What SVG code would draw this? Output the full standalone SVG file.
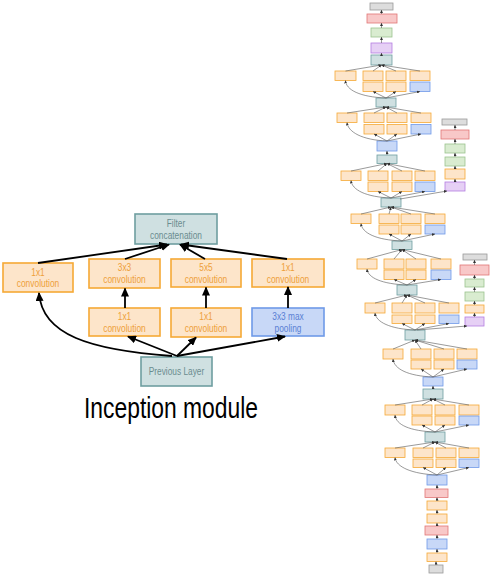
<svg xmlns="http://www.w3.org/2000/svg" width="492" height="579" viewBox="0 0 492 579">
<defs>
<style>
.L{stroke-width:1.6}
.S{stroke-width:0.8}
.o{fill:#fde5ca;stroke:#f6a935}
.b{fill:#c8d8f7;stroke:#6f9ae8}
.t{fill:#cfe0e1;stroke:#6e9ea0}
.g{fill:#dddddd;stroke:#9a9a9a}
.r{fill:#f8c8c8;stroke:#e07676}
.gr{fill:#d9ecd0;stroke:#9cc48e}
.p{fill:#e6d0f5;stroke:#b57de0}
text{font-family:"Liberation Sans",Arial,sans-serif;text-anchor:middle;font-size:10.5px}
.to{fill:#ee9f3a}
.tb{fill:#5a80d4}
.tt{fill:#6a8c8f}
.big{stroke:#000;stroke-width:1.8;fill:none}
.sm{stroke:#555;stroke-width:0.6;fill:none}
</style>
<marker id="ah" markerUnits="userSpaceOnUse" markerWidth="9" markerHeight="8" refX="8" refY="4" orient="auto"><path d="M0,0 L9,4 L0,8 z" fill="#000"/></marker>
<marker id="as" markerUnits="userSpaceOnUse" markerWidth="3" markerHeight="3" refX="3" refY="1.5" orient="auto"><path d="M0,0 L3,1.5 L0,3 z" fill="#333"/></marker>
</defs>

<!-- Left: Inception module -->
<g id="concat"><rect class="t L" x="135" y="214" width="82" height="30"/><text class="tt" x="176" y="226.5" textLength="18.4" lengthAdjust="spacingAndGlyphs">Filter</text><text class="tt" x="176" y="238.5" textLength="52" lengthAdjust="spacingAndGlyphs">concatenation</text></g>
<g id="conv1x1a"><rect class="o L" x="3" y="263" width="70" height="29"/><text class="to" x="38" y="275.5" textLength="13.4" lengthAdjust="spacingAndGlyphs">1x1</text><text class="to" x="38" y="287" textLength="42.5" lengthAdjust="spacingAndGlyphs">convolution</text></g>
<g id="conv3x3"><rect class="o L" x="89" y="259" width="71" height="29"/><text class="to" x="124.5" y="271" textLength="13.4" lengthAdjust="spacingAndGlyphs">3x3</text><text class="to" x="124.5" y="283" textLength="42.5" lengthAdjust="spacingAndGlyphs">convolution</text></g>
<g id="conv5x5"><rect class="o L" x="171" y="259" width="70" height="28"/><text class="to" x="206" y="271" textLength="13.4" lengthAdjust="spacingAndGlyphs">5x5</text><text class="to" x="206" y="283" textLength="42.5" lengthAdjust="spacingAndGlyphs">convolution</text></g>
<g id="conv1x1d"><rect class="o L" x="252" y="259" width="72" height="28"/><text class="to" x="288" y="271" textLength="13.4" lengthAdjust="spacingAndGlyphs">1x1</text><text class="to" x="288" y="283" textLength="42.5" lengthAdjust="spacingAndGlyphs">convolution</text></g>
<g id="conv1x1b"><rect class="o L" x="89" y="308" width="71" height="28"/><text class="to" x="124.5" y="320" textLength="13.4" lengthAdjust="spacingAndGlyphs">1x1</text><text class="to" x="124.5" y="331.5" textLength="42.5" lengthAdjust="spacingAndGlyphs">convolution</text></g>
<g id="conv1x1c"><rect class="o L" x="171" y="308" width="70" height="29"/><text class="to" x="206" y="320" textLength="13.4" lengthAdjust="spacingAndGlyphs">1x1</text><text class="to" x="206" y="332" textLength="42.5" lengthAdjust="spacingAndGlyphs">convolution</text></g>
<g id="maxpool"><rect class="b L" x="252" y="308" width="72" height="28"/><text class="tb" x="288" y="319.5" textLength="31.4" lengthAdjust="spacingAndGlyphs">3x3 max</text><text class="tb" x="288" y="331.5" textLength="26.8" lengthAdjust="spacingAndGlyphs">pooling</text></g>
<g id="prev"><rect class="t L" x="141" y="357" width="71" height="29"/><text class="tt" x="176.5" y="375" textLength="55.4" lengthAdjust="spacingAndGlyphs">Previous Layer</text></g>
<g id="caption"><text x="171" y="418" style="font-size:29px;fill:#000" textLength="174" lengthAdjust="spacingAndGlyphs">Inception module</text></g>

<g id="connectors-left">
<line class="big" x1="38" y1="263" x2="167" y2="244.5" marker-end="url(#ah)"/>
<line class="big" x1="125" y1="259" x2="169" y2="244.5" marker-end="url(#ah)"/>
<line class="big" x1="205" y1="259" x2="180" y2="244.5" marker-end="url(#ah)"/>
<line class="big" x1="287" y1="259" x2="181" y2="244.5" marker-end="url(#ah)"/>
<line class="big" x1="125" y1="308" x2="125" y2="288.5" marker-end="url(#ah)"/>
<line class="big" x1="206" y1="308" x2="206" y2="287.5" marker-end="url(#ah)"/>
<line class="big" x1="288" y1="308" x2="288" y2="287" marker-end="url(#ah)"/>
<line class="big" x1="177" y1="356" x2="128" y2="336.5" marker-end="url(#ah)"/>
<line class="big" x1="177" y1="356" x2="196" y2="337.5" marker-end="url(#ah)"/>
<line class="big" x1="177" y1="356" x2="285" y2="336.5" marker-end="url(#ah)"/>
<path class="big" d="M172,356 C90,350 42,335 39,293" marker-end="url(#ah)"/>
</g>

<!-- Right: GoogLeNet column -->
<g id="net-stem-top">
<g id="n-out"><rect class="g S" x="370" y="3" width="23" height="7"/></g>
<g id="n-softmax"><rect class="r S" x="367" y="14" width="30" height="9"/></g>
<g id="n-fc"><rect class="gr S" x="371" y="28" width="21" height="9"/></g>
<g id="n-avgpool"><rect class="p S" x="371" y="43" width="21" height="10"/></g>
<g id="n-c5b"><rect class="t S" x="371" y="55" width="21" height="10"/></g>
</g>
<g id="m5b"><rect class="o S" x="335" y="71" width="21" height="9.5"/><rect class="o S" x="363" y="71" width="20" height="9.5"/><rect class="o S" x="386" y="71" width="20" height="9.5"/><rect class="o S" x="410" y="71" width="20" height="9.5"/><rect class="o S" x="363" y="82" width="20" height="9.5"/><rect class="o S" x="386" y="82" width="20" height="9.5"/><rect class="b S" x="410" y="82" width="20" height="9.5"/></g>
<g id="n-c5a"><rect class="t S" x="376" y="98" width="20" height="9"/></g>
<g id="m5a"><rect class="o S" x="337" y="113" width="20" height="9.5"/><rect class="o S" x="364" y="113" width="20" height="9.5"/><rect class="o S" x="387" y="113" width="20" height="9.5"/><rect class="o S" x="411" y="113" width="20" height="9.5"/><rect class="o S" x="364" y="124.5" width="20" height="9.5"/><rect class="o S" x="387" y="124.5" width="20" height="9.5"/><rect class="b S" x="411" y="124.5" width="20" height="9.5"/></g>
<g id="n-mp4"><rect class="b S" x="377" y="141" width="20" height="10"/></g>
<g id="n-c4e"><rect class="t S" x="377" y="155" width="20" height="8.5"/></g>
<g id="m4e"><rect class="o S" x="341" y="171" width="20" height="9.5"/><rect class="o S" x="368" y="171" width="20" height="9.5"/><rect class="o S" x="392" y="171" width="20" height="9.5"/><rect class="o S" x="415" y="171" width="20" height="9.5"/><rect class="o S" x="368" y="182" width="20" height="9.5"/><rect class="o S" x="392" y="182" width="20" height="9.5"/><rect class="b S" x="415" y="182" width="20" height="9.5"/></g>
<g id="n-c4d"><rect class="t S" x="381" y="198" width="20" height="9"/></g>
<g id="m4d"><rect class="o S" x="351" y="214" width="20" height="9.5"/><rect class="o S" x="379" y="214" width="20" height="9.5"/><rect class="o S" x="401" y="214" width="20" height="9.5"/><rect class="o S" x="425" y="214" width="20" height="9.5"/><rect class="o S" x="379" y="225" width="20" height="9"/><rect class="o S" x="401" y="225" width="20" height="9"/><rect class="b S" x="425" y="225" width="20" height="9"/></g>
<g id="n-c4c"><rect class="t S" x="392" y="241" width="20" height="8.5"/></g>
<g id="m4c"><rect class="o S" x="357" y="259" width="20" height="10"/><rect class="o S" x="384" y="259" width="20" height="10"/><rect class="o S" x="406" y="259" width="20" height="10"/><rect class="o S" x="431" y="259" width="20" height="10"/><rect class="o S" x="384" y="270" width="20" height="9.5"/><rect class="o S" x="406" y="270" width="20" height="9.5"/><rect class="b S" x="431" y="270" width="20" height="9.5"/></g>
<g id="n-c4b"><rect class="t S" x="397" y="285" width="20" height="10"/></g>
<g id="m4b"><rect class="o S" x="365" y="303" width="20" height="10"/><rect class="o S" x="392" y="303" width="20" height="10"/><rect class="o S" x="415" y="303" width="20" height="10"/><rect class="o S" x="439" y="303" width="20" height="10"/><rect class="o S" x="392" y="315" width="20" height="8.5"/><rect class="o S" x="415" y="315" width="20" height="8.5"/><rect class="b S" x="439" y="315" width="20" height="8.5"/></g>
<g id="n-c4a"><rect class="t S" x="405" y="330" width="20" height="10"/></g>
<g id="m4a"><rect class="o S" x="383" y="349" width="20" height="10"/><rect class="o S" x="411" y="349" width="20" height="10"/><rect class="o S" x="434" y="349" width="20" height="10"/><rect class="o S" x="457" y="349" width="20" height="10"/><rect class="o S" x="411" y="360" width="20" height="9"/><rect class="o S" x="434" y="360" width="20" height="9"/><rect class="b S" x="457" y="360" width="20" height="9"/></g>
<g id="n-mp3"><rect class="b S" x="423" y="377" width="20" height="9"/></g>
<g id="n-c3b"><rect class="t S" x="423" y="389" width="20" height="10"/></g>
<g id="m3b"><rect class="o S" x="385" y="405" width="20" height="10"/><rect class="o S" x="412" y="405" width="20" height="10"/><rect class="o S" x="435" y="405" width="20" height="10"/><rect class="o S" x="459" y="405" width="20" height="10"/><rect class="o S" x="412" y="416" width="20" height="9"/><rect class="o S" x="435" y="416" width="20" height="9"/><rect class="b S" x="459" y="416" width="20" height="9"/></g>
<g id="n-c3a"><rect class="t S" x="425" y="432" width="20" height="10"/></g>
<g id="m3a"><rect class="o S" x="385" y="448" width="20" height="9.5"/><rect class="o S" x="413" y="448" width="20" height="9.5"/><rect class="o S" x="436" y="448" width="20" height="9.5"/><rect class="o S" x="459" y="448" width="20" height="9.5"/><rect class="o S" x="413" y="459" width="20" height="8.5"/><rect class="o S" x="436" y="459" width="20" height="8.5"/><rect class="b S" x="459" y="459" width="20" height="8.5"/></g>
<g id="net-stem-bottom">
<g id="n-mp2"><rect class="b S" x="427" y="475" width="20" height="10"/></g>
<g id="n-lrn2"><rect class="r S" x="425" y="489" width="23" height="8.5"/></g>
<g id="n-conv3"><rect class="o S" x="427" y="501" width="20" height="9"/></g>
<g id="n-conv2"><rect class="o S" x="427" y="514" width="20" height="9"/></g>
<g id="n-lrn1"><rect class="r S" x="425" y="526" width="23" height="9"/></g>
<g id="n-mp1"><rect class="b S" x="427" y="539" width="20" height="10"/></g>
<g id="n-conv1"><rect class="o S" x="427" y="553" width="20" height="8.5"/></g>
<g id="n-input"><rect class="g S" x="429" y="565" width="14" height="8"/></g>
</g>
<g id="aux1">
<rect class="g S" x="442" y="119" width="25" height="6"/>
<rect class="r S" x="441" y="130" width="28" height="9"/>
<rect class="gr S" x="445" y="144" width="20" height="9"/>
<rect class="gr S" x="445" y="157" width="20" height="9"/>
<rect class="o S" x="445" y="169" width="20" height="10"/>
<rect class="p S" x="445" y="182" width="20" height="9"/>
</g>
<g id="aux2">
<rect class="g S" x="463" y="254" width="24" height="6"/>
<rect class="r S" x="460" y="265" width="29" height="10"/>
<rect class="gr S" x="465" y="279" width="19" height="8"/>
<rect class="gr S" x="465" y="292" width="19" height="9"/>
<rect class="o S" x="465" y="305" width="19" height="8"/>
<rect class="p S" x="465" y="317" width="19" height="9"/>
</g>

<g id="connectors-right" marker-end="url(#as)">
<line class="sm" x1="381.5" y1="55" x2="381.5" y2="53"/>
<line class="sm" x1="381.5" y1="43" x2="381.5" y2="37"/>
<line class="sm" x1="381.5" y1="28" x2="381.5" y2="23"/>
<line class="sm" x1="381.5" y1="14" x2="381.5" y2="10"/>
<line class="sm" x1="386" y1="98" x2="373" y2="91.5"/><line class="sm" x1="386" y1="98" x2="396" y2="91.5"/><line class="sm" x1="386" y1="98" x2="420" y2="91.5"/>
<path class="sm" d="M386,98 C360,97 346,90 345.5,80.5"/>
<line class="sm" x1="345.5" y1="71" x2="381.5" y2="65"/><line class="sm" x1="373" y1="71" x2="381.5" y2="65"/><line class="sm" x1="396" y1="71" x2="381.5" y2="65"/><line class="sm" x1="420" y1="71" x2="381.5" y2="65"/>
<line class="sm" x1="387" y1="141" x2="374" y2="134"/><line class="sm" x1="387" y1="141" x2="397" y2="134"/><line class="sm" x1="387" y1="141" x2="421" y2="134"/>
<path class="sm" d="M387,141 C362,140 348,132 347,122.5"/>
<line class="sm" x1="347" y1="113" x2="386" y2="107"/><line class="sm" x1="374" y1="113" x2="386" y2="107"/><line class="sm" x1="397" y1="113" x2="386" y2="107"/><line class="sm" x1="421" y1="113" x2="386" y2="107"/>
<line class="sm" x1="387" y1="155" x2="387" y2="151"/>
<line class="sm" x1="391" y1="198" x2="378" y2="191.5"/><line class="sm" x1="391" y1="198" x2="402" y2="191.5"/><line class="sm" x1="391" y1="198" x2="425" y2="191.5"/>
<path class="sm" d="M391,198 C366,197 352,190 351,180.5"/>
<line class="sm" x1="351" y1="171" x2="387" y2="163.5"/><line class="sm" x1="378" y1="171" x2="387" y2="163.5"/><line class="sm" x1="402" y1="171" x2="387" y2="163.5"/><line class="sm" x1="425" y1="171" x2="387" y2="163.5"/>
<line class="sm" x1="402" y1="241" x2="389" y2="234"/><line class="sm" x1="402" y1="241" x2="411" y2="234"/><line class="sm" x1="402" y1="241" x2="435" y2="234"/>
<path class="sm" d="M402,241 C376,240 362,233 361,223.5"/>
<line class="sm" x1="361" y1="214" x2="391" y2="207"/><line class="sm" x1="389" y1="214" x2="391" y2="207"/><line class="sm" x1="411" y1="214" x2="391" y2="207"/><line class="sm" x1="435" y1="214" x2="391" y2="207"/>
<line class="sm" x1="407" y1="285" x2="394" y2="279.5"/><line class="sm" x1="407" y1="285" x2="416" y2="279.5"/><line class="sm" x1="407" y1="285" x2="441" y2="279.5"/>
<path class="sm" d="M407,285 C382,284 368,278 367,269"/>
<line class="sm" x1="367" y1="259" x2="402" y2="249.5"/><line class="sm" x1="394" y1="259" x2="402" y2="249.5"/><line class="sm" x1="416" y1="259" x2="402" y2="249.5"/><line class="sm" x1="441" y1="259" x2="402" y2="249.5"/>
<line class="sm" x1="415" y1="330" x2="402" y2="323.5"/><line class="sm" x1="415" y1="330" x2="425" y2="323.5"/><line class="sm" x1="415" y1="330" x2="449" y2="323.5"/>
<path class="sm" d="M415,330 C390,329 376,322 375,313"/>
<line class="sm" x1="375" y1="303" x2="407" y2="295"/><line class="sm" x1="402" y1="303" x2="407" y2="295"/><line class="sm" x1="425" y1="303" x2="407" y2="295"/><line class="sm" x1="449" y1="303" x2="407" y2="295"/>
<line class="sm" x1="433" y1="377" x2="421" y2="369"/><line class="sm" x1="433" y1="377" x2="444" y2="369"/><line class="sm" x1="433" y1="377" x2="467" y2="369"/>
<path class="sm" d="M433,377 C408,376 394,369 393,359"/>
<line class="sm" x1="393" y1="349" x2="415" y2="340"/><line class="sm" x1="421" y1="349" x2="415" y2="340"/><line class="sm" x1="444" y1="349" x2="415" y2="340"/><line class="sm" x1="467" y1="349" x2="415" y2="340"/>
<line class="sm" x1="433" y1="389" x2="433" y2="386"/>
<line class="sm" x1="435" y1="432" x2="422" y2="425"/><line class="sm" x1="435" y1="432" x2="445" y2="425"/><line class="sm" x1="435" y1="432" x2="469" y2="425"/>
<path class="sm" d="M435,432 C410,431 396,425 395,415"/>
<line class="sm" x1="395" y1="405" x2="433" y2="399"/><line class="sm" x1="422" y1="405" x2="433" y2="399"/><line class="sm" x1="445" y1="405" x2="433" y2="399"/><line class="sm" x1="469" y1="405" x2="433" y2="399"/>
<line class="sm" x1="437" y1="475" x2="423" y2="467.5"/><line class="sm" x1="437" y1="475" x2="446" y2="467.5"/><line class="sm" x1="437" y1="475" x2="469" y2="467.5"/>
<path class="sm" d="M437,475 C412,474 396,467 395,457.5"/>
<line class="sm" x1="395" y1="448" x2="435" y2="442"/><line class="sm" x1="423" y1="448" x2="435" y2="442"/><line class="sm" x1="446" y1="448" x2="435" y2="442"/><line class="sm" x1="469" y1="448" x2="435" y2="442"/>
<line class="sm" x1="437" y1="489" x2="437" y2="485"/>
<line class="sm" x1="437" y1="501" x2="437" y2="497.5"/>
<line class="sm" x1="437" y1="514" x2="437" y2="510"/>
<line class="sm" x1="437" y1="526" x2="437" y2="523"/>
<line class="sm" x1="437" y1="539" x2="437" y2="535"/>
<line class="sm" x1="437" y1="553" x2="437" y2="549"/>
<line class="sm" x1="436" y1="565" x2="436" y2="561.5"/>
<line class="sm" x1="400" y1="199" x2="447" y2="191"/>
<line class="sm" x1="455" y1="182" x2="455" y2="179"/>
<line class="sm" x1="455" y1="169" x2="455" y2="166"/>
<line class="sm" x1="455" y1="157" x2="455" y2="153"/>
<line class="sm" x1="455" y1="144" x2="455" y2="139"/>
<line class="sm" x1="455" y1="130" x2="455" y2="125"/>
<line class="sm" x1="417" y1="330" x2="467" y2="326"/>
<line class="sm" x1="474.5" y1="317" x2="474.5" y2="313"/>
<line class="sm" x1="474.5" y1="305" x2="474.5" y2="301"/>
<line class="sm" x1="474.5" y1="292" x2="474.5" y2="287"/>
<line class="sm" x1="474.5" y1="279" x2="474.5" y2="275"/>
<line class="sm" x1="474.5" y1="265" x2="474.5" y2="260"/>
</g>
</svg>
